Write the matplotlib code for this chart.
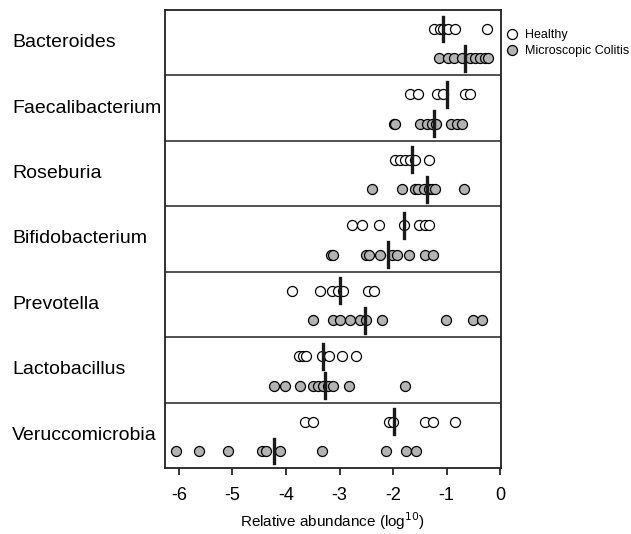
import numpy as np
import matplotlib.pyplot as plt
from matplotlib.lines import Line2D

plt.rcParams['font.family'] = ['Liberation Sans', 'DejaVu Sans']

taxa = ['Bacteroides', 'Faecalibacterium', 'Roseburia', 'Bifidobacterium',
        'Prevotella', 'Lactobacillus', 'Veruccomicrobia']

# log10 relative abundance
healthy = [
    [-1.23, -1.13, -1.06, -0.98, -0.84, -0.25],
    [-1.68, -1.53, -1.18, -1.06, -0.65, -0.56],
    [-1.96, -1.87, -1.78, -1.68, -1.59, -1.33],
    [-2.77, -2.58, -2.27, -1.80, -1.51, -1.40, -1.32],
    [-3.89, -3.36, -3.15, -3.02, -2.94, -2.46, -2.36],
    [-3.75, -3.68, -3.63, -3.32, -3.19, -2.96, -2.70],
    [-3.64, -3.50, -2.07, -2.00, -1.40, -1.26, -0.84],
]
colitis = [
    [-1.15, -0.97, -0.87, -0.72, -0.56, -0.47, -0.37, -0.28, -0.22],
    [-1.99, -1.96, -1.50, -1.37, -1.28, -1.20, -0.92, -0.81, -0.72],
    [-2.40, -1.83, -1.59, -1.53, -1.43, -1.33, -1.28, -1.21, -0.67],
    [-3.16, -3.12, -2.51, -2.45, -2.24, -2.02, -1.93, -1.71, -1.40, -1.25],
    [-3.49, -3.12, -2.99, -2.80, -2.62, -2.50, -2.20, -1.01, -0.51, -0.34],
    [-4.22, -4.02, -3.74, -3.49, -3.40, -3.30, -3.21, -3.12, -2.82, -1.78],
    [-6.06, -5.62, -5.08, -4.44, -4.37, -4.11, -3.32, -2.13, -1.76, -1.58],
]
healthy_mean = [-1.06, -1.00, -1.64, -1.80, -2.99, -3.30, -1.99]
colitis_mean = [-0.65, -1.23, -1.37, -2.10, -2.52, -3.27, -4.22]

gray = '#b3b3b3'
msize = 7.2

fig = plt.figure(figsize=(6.31, 5.34), dpi=100)
ax = fig.add_axes([0.2615, 0.1236, 0.532, 0.8577])

n = len(taxa)
for i, name in enumerate(taxa):
    top = n - i
    yh = top - 0.29
    yc = top - 0.74
    ax.plot(healthy[i], [yh] * len(healthy[i]), 'o', ms=msize, mfc='white',
            mec='black', mew=0.9, ls='none', zorder=3)
    ax.plot(colitis[i], [yc] * len(colitis[i]), 'o', ms=msize, mfc=gray,
            mec='black', mew=0.9, ls='none', zorder=3)
    ax.plot([healthy_mean[i]] * 2, [yh - 0.19, yh + 0.19], color='#1a1a1a',
            lw=2.4, zorder=4)
    ax.plot([colitis_mean[i]] * 2, [yc - 0.19, yc + 0.19], color='#1a1a1a',
            lw=2.4, zorder=4)
    if i > 0:
        ax.axhline(top, color='#222222', lw=1.1)
    ax.text(-0.455, top - 0.5, name, transform=ax.get_yaxis_transform(),
            ha='left', va='center', fontsize=14)

ax.set_xlim(-6.26, 0.01)
ax.set_ylim(0, n)
ax.set_yticks([])
ax.set_xticks(np.arange(-6, 1))
ax.set_xticklabels(['-6', '-5', '-4', '-3', '-2', '-1', '0'])
ax.tick_params(axis='x', labelsize=13, length=5, width=1.1, pad=9)
for s in ax.spines.values():
    s.set_linewidth(1.3)
    s.set_color('#222222')
ax.set_xlabel('Relative abundance (log$^{10}$)', fontsize=11, labelpad=4)

handles = [
    Line2D([], [], marker='o', ls='none', ms=msize, mfc='white', mec='black', mew=0.9),
    Line2D([], [], marker='o', ls='none', ms=msize, mfc=gray, mec='black', mew=0.9),
]
ax.legend(handles, ['Healthy', 'Microscopic Colitis'], loc='upper left',
          bbox_to_anchor=(0.988, 0.975), frameon=False, fontsize=9,
          handletextpad=0.5, borderaxespad=0.2, labelspacing=0.35,
          handlelength=1.2)

fig.savefig('out.png', dpi=100)
